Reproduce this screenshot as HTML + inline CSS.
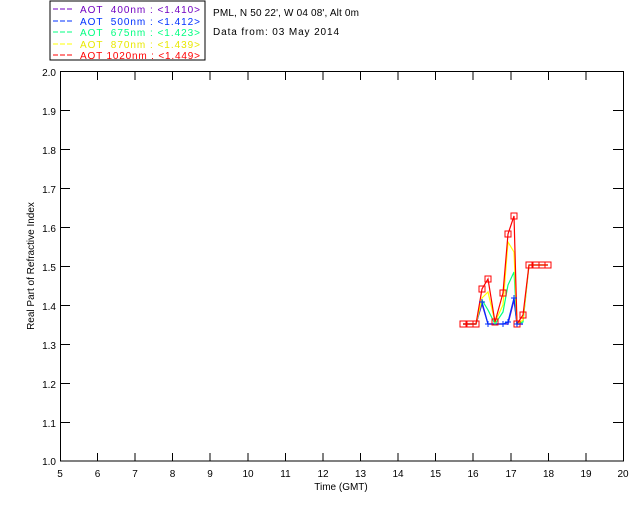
<!DOCTYPE html>
<html><head><meta charset="utf-8"><style>
body{margin:0;background:#fff;}
svg text{font-family:"Liberation Sans",sans-serif;font-size:10px;}
</style></head><body>
<svg width="640" height="512" viewBox="0 0 640 512" xmlns="http://www.w3.org/2000/svg">
<rect width="640" height="512" fill="#fff"/>
<rect x="50" y="1" width="155" height="59" fill="#fff" stroke="#000" stroke-width="1"/>
<g stroke-width="1">
<line x1="53" y1="9" x2="74" y2="9" stroke="#7000c0" stroke-dasharray="5,2"/>
<line x1="53" y1="21" x2="74" y2="21" stroke="#0030ff" stroke-dasharray="5,2"/>
<line x1="53" y1="32" x2="74" y2="32" stroke="#00ff80" stroke-dasharray="5,2"/>
<line x1="53" y1="44" x2="74" y2="44" stroke="#ffff00" stroke-dasharray="5,2"/>
<line x1="53" y1="55" x2="74" y2="55" stroke="#ff0000" stroke-dasharray="5,2"/>
</g>
<text x="80" y="13" fill="#7000c0" xml:space="preserve" textLength="120" lengthAdjust="spacing">AOT  400nm : &lt;1.410&gt;</text>
<text x="80" y="25" fill="#0030ff" xml:space="preserve" textLength="120" lengthAdjust="spacing">AOT  500nm : &lt;1.412&gt;</text>
<text x="80" y="36" fill="#00ff80" xml:space="preserve" textLength="120" lengthAdjust="spacing">AOT  675nm : &lt;1.423&gt;</text>
<text x="80" y="48" fill="#e8e800" xml:space="preserve" textLength="120" lengthAdjust="spacing">AOT  870nm : &lt;1.439&gt;</text>
<text x="80" y="59" fill="#ff0000" xml:space="preserve" textLength="120" lengthAdjust="spacing">AOT 1020nm : &lt;1.449&gt;</text>
<text x="213" y="16" fill="#000" textLength="146" lengthAdjust="spacing">PML, N 50 22', W 04 08', Alt 0m</text>
<text x="213" y="35" fill="#000" textLength="126" lengthAdjust="spacing">Data from: 03 May 2014</text>
<rect x="60.5" y="71.5" width="563" height="389.5" fill="none" stroke="#000"/>
<g stroke="#000">
<path d="M97.5,461v-8M135,461v-8M172.5,461v-8M210,461v-8M248,461v-8M285.5,461v-8M323,461v-8M360.5,461v-8M398,461v-8M435.5,461v-8M473,461v-8M511,461v-8M548.5,461v-8M586,461v-8"/>
<path d="M97.5,72v8M135,72v8M172.5,72v8M210,72v8M248,72v8M285.5,72v8M323,72v8M360.5,72v8M398,72v8M435.5,72v8M473,72v8M511,72v8M548.5,72v8M586,72v8"/>
<path d="M60,110.5h10M60,149.5h10M60,188.5h10M60,227.5h10M60,266.5h10M60,305.5h10M60,344.5h10M60,383.5h10M60,422.5h10"/>
<path d="M623,110.5h-10M623,149.5h-10M623,188.5h-10M623,227.5h-10M623,266.5h-10M623,305.5h-10M623,344.5h-10M623,383.5h-10M623,422.5h-10"/>
</g>
<g fill="#000" text-anchor="end">
<text x="56" y="76">2.0</text><text x="56" y="115">1.9</text><text x="56" y="154">1.8</text><text x="56" y="193">1.7</text><text x="56" y="232">1.6</text><text x="56" y="271">1.5</text><text x="56" y="310">1.4</text><text x="56" y="349">1.3</text><text x="56" y="388">1.2</text><text x="56" y="427">1.1</text><text x="56" y="465">1.0</text>
</g>
<g fill="#000" text-anchor="middle">
<text x="60" y="477">5</text><text x="97.5" y="477">6</text><text x="135" y="477">7</text><text x="172.5" y="477">8</text><text x="210" y="477">9</text><text x="248" y="477">10</text><text x="285.5" y="477">11</text><text x="323" y="477">12</text><text x="360.5" y="477">13</text><text x="398" y="477">14</text><text x="435.5" y="477">15</text><text x="473" y="477">16</text><text x="511" y="477">17</text><text x="548.5" y="477">18</text><text x="586" y="477">19</text><text x="623" y="477">20</text>
<text x="341" y="490">Time (GMT)</text>
<text transform="translate(34,266) rotate(-90)">Real Part of Refractive Index</text>
</g>
<g fill="none" stroke-width="1.2">
<polyline stroke="#7000c0" points="463,324 470,324 476,324 482,304 488,324 495,324 503,324 508,324 514,300 517,324 523,324"/>
<polyline stroke="#0030ff" points="463,324 470,324 476,324 482,302 488,324 495,324 503,324 508,322 514,298 517,324 523,324"/>
<polyline stroke="#00ff80" points="463,324 470,324 476,324 482,300 488,310 495,324 503,312 508,285 514,272 517,324 523,322 529,265 536,265 542,265 548,265"/>
<polyline stroke="#ffff00" points="463,324 470,324 476,324 482,298 488,292 495,322 503,305 508,242 514,252 517,324 523,320 529,265 536,265 542,265 548,265"/>
<polyline stroke="#ff0000" points="463,324 470,324 476,324 482,289 488,279 495,322 503,293 508,234 514,216 517,324 523,315 529,265 536,265 542,265 548,265"/>
</g>
<g fill="none" stroke="#ff0000" stroke-width="1">
<rect x="460" y="321" width="6" height="6"/><rect x="467" y="321" width="6" height="6"/><rect x="473" y="321" width="6" height="6"/>
<rect x="479" y="286" width="6" height="6"/><rect x="485" y="276" width="6" height="6"/><rect x="492" y="319" width="6" height="6"/>
<rect x="500" y="290" width="6" height="6"/><rect x="505" y="231" width="6" height="6"/><rect x="511" y="213" width="6" height="6"/>
<rect x="514" y="321" width="6" height="6"/><rect x="520" y="312" width="6" height="6"/>
<rect x="526" y="262" width="6" height="6"/><rect x="533" y="262" width="6" height="6"/><rect x="539" y="262" width="6" height="6"/><rect x="545" y="262" width="6" height="6"/>
</g>
<g stroke="#0030ff" stroke-width="1">
<path d="M479,302h6M482,299v6M485,324h6M488,321v6M500,324h6M503,321v6M505,322h6M508,319v6M511,298h6M514,295v6M514,324h6M517,321v6"/>
</g>
</svg>
</body></html>
